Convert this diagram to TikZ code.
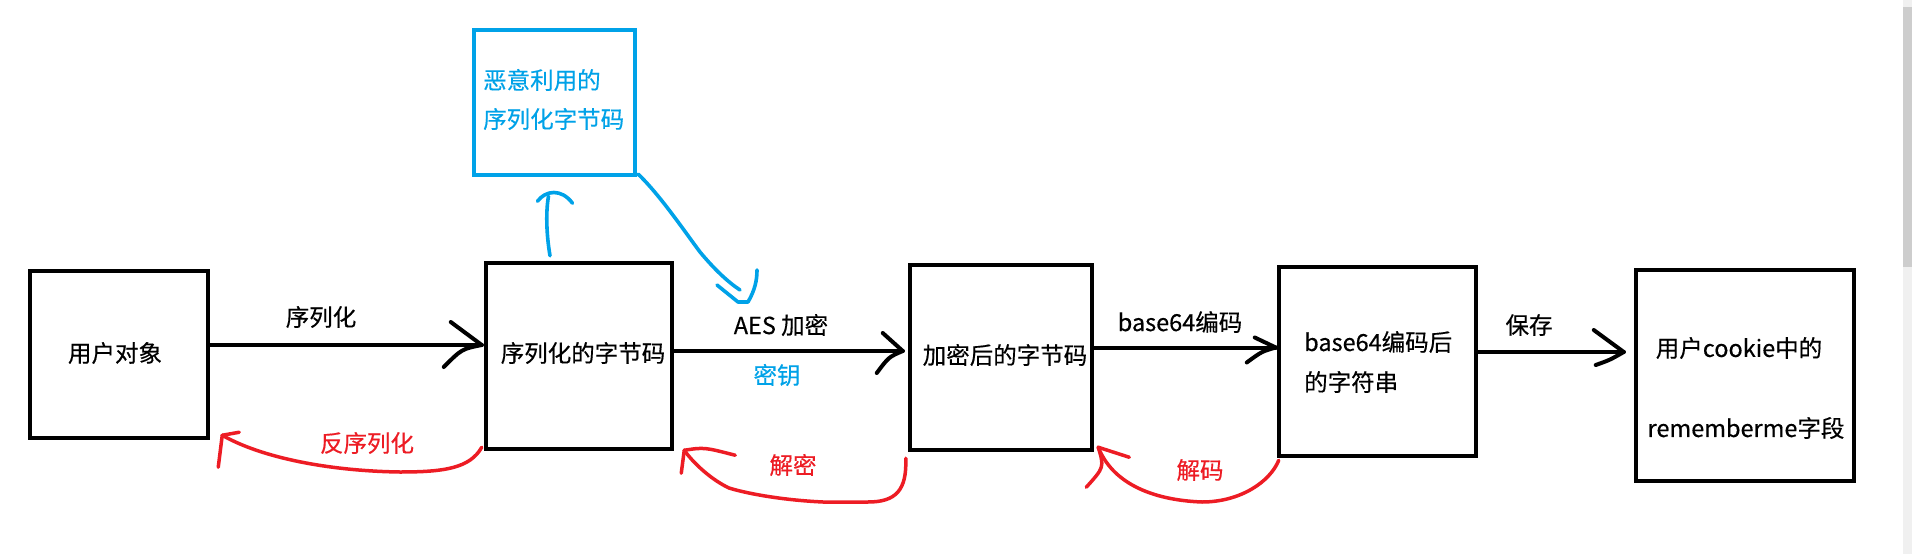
\documentclass[tikz,border=0pt]{standalone}
\usepackage{fontspec}
\setmainfont{Noto Sans CJK SC}[FakeBold=0.4]
\usetikzlibrary{calc}
\definecolor{pblue}{HTML}{00A2E8}
\definecolor{pred}{HTML}{ED1C24}
\definecolor{sbtrack}{HTML}{F0F0F0}
\definecolor{sbthumb}{HTML}{CDCDCD}
\begin{document}
\begin{tikzpicture}[x=1pt,y=-1pt,
  font=\fontsize{23.5}{28}\selectfont,
  box/.style={draw=black,line width=4.5pt,inner sep=0pt},
  bluebox/.style={draw=pblue,line width=4.5pt,inner sep=0pt},
  txt/.style={inner sep=0pt,anchor=center},
  blk/.style={draw=black,line width=4pt,line cap=round,line join=round},
  redln/.style={draw=pred,line width=3.5pt,line cap=round,line join=round},
  blueln/.style={draw=pblue,line width=3.6pt,line cap=round,line join=round}]

\fill[white] (0,0) rectangle (1912,554);
\path[use as bounding box] (0,0) rectangle (1912,554);
\fill[sbtrack] (1903,0) rectangle (1912,554);
\fill[sbthumb] (1903,7) rectangle (1912,267);

% boxes
\node[box,minimum width=178pt,minimum height=167pt] (obj) at (119,354.5) {};
\node[box,minimum width=186pt,minimum height=186pt] (ser) at (579,356) {};
\node[box,minimum width=182pt,minimum height=185pt] (enc) at (1001,357.5) {};
\node[box,minimum width=197pt,minimum height=189pt] (b64) at (1377.5,361.5) {};
\node[box,minimum width=218pt,minimum height=211pt] (ck) at (1745,375.5) {};
\node[bluebox,minimum width=161pt,minimum height=145pt] (mal) at (554.5,102.5) {};

% box texts
\node[txt] (tobj) at (115,353) {用户对象};
\node[txt] (tser) at (583,353) {序列化的字节码};
\node[txt] (tenc) at (1005,355) {加密后的字节码};
\node[txt,anchor=west] (tb64a) at (1304,342) {base64编码后};
\node[txt,anchor=west] (tb64b) at (1304,382) {的字符串};
\node[txt] (tck1) at (1739,348) {用户cookie中的};
\node[txt] (tck2) at (1746,428) {rememberme字段};
\node[txt,anchor=west,text=pblue] (tmal1) at (483,80) {恶意利用的};
\node[txt,anchor=west,text=pblue] (tmal2) at (483,119) {序列化字节码};

% labels
\node[txt] (lser) at (321,317) {序列化};
\node[txt] (laes) at (781,325) {AES 加密};
\node[txt,text=pblue] (lkey) at (777,375) {密钥};
\node[txt] (lb64) at (1180,322) {base64编码};
\node[txt] (lsave) at (1529,325) {保存};
\node[txt,text=pred] (ldeser) at (367,443) {反序列化};
\node[txt,text=pred] (ldec) at (793,465) {解密};
\node[txt,text=pred] (ldecode) at (1200,470) {解码};

% black arrows
\coordinate (a1s) at ($(obj.east)+(0,-9.5)$);
\coordinate (a1t) at ($(a1s -| ser.west)+(-2,0)$);
\draw[blk] (a1s) -- (a1t);
\draw[blk] (a1t) -- +(-31,-23);
\draw[blk] (a1t) .. controls +(-20,4) .. +(-38,22);

\coordinate (a2s) at ($(ser.east)+(0,-5)$);
\coordinate (a2t) at ($(a2s -| enc.west)+(-5,0)$);
\draw[blk] (a2s) -- (a2t);
\draw[blk] (a2t) -- +(-20,-18);
\draw[blk] (a2t) .. controls +(-14,6) .. +(-26,22);

\coordinate (a3s) at ($(enc.east)+(0,-10)$);
\coordinate (a3t) at ($(a3s -| b64.west)+(-1,0)$);
\draw[blk] (a3s) -- (a3t);
\draw[blk] (a3t) -- +(-21,-10);
\draw[blk] (a3t) .. controls +(-14,4) .. +(-29,15);

\coordinate (a4s) at ($(b64.east)+(0,-9.5)$);
\coordinate (a4t) at ($(a4s -| ck.west)+(-10,0)$);
\draw[blk] (a4s) -- (a4t);
\draw[blk] (a4t) -- +(-30,-22);
\draw[blk] (a4t) .. controls +(-14,8) .. +(-28,13);

% red return arrows
\coordinate (r1s) at ($(ser.south west)+(-2,-4)$);
\coordinate (r1t) at ($(obj.south east)+(12,-5)$);
\draw[redln] (r1s) .. controls (470,468) and (445,472) .. (400,472)
  .. controls (330,471) and (262,458) .. (r1t);
\draw[redln] (r1t) -- +(-4,32);
\draw[redln] (r1t) -- +(17,-3);

\coordinate (r2s) at ($(enc.south west)+(-2,6)$);
\coordinate (r2t) at ($(ser.south east)+(10,-1)$);
\draw[redln] (r2s) .. controls (907,490) and (896,502) .. (868,502) -- (823,502)
  .. controls (780,500) and (745,493) .. (729,488)
  .. controls (712,480) and (694,464) .. (r2t);
\draw[redln] (r2t) .. controls +(20,-3) .. +(51,5);
\draw[redln] (r2t) -- +(-3,23);

\coordinate (r3s) at ($(b64.south west)+(2,2)$);
\coordinate (r3t) at ($(enc.south east)+(4,-5)$);
\draw[redln] (r3s) .. controls (1270,482) and (1240,502) .. (1202,502)
  .. controls (1150,500) and (1112,482) .. (r3t);
\draw[redln] (r3t) .. controls +(15,5) .. +(31,10);
\draw[redln] (r3t) .. controls +(6,20) .. +(-12,40);

% blue arrows
\coordinate (b1s) at ($(ser.north)+(-29,-5)$);
\coordinate (b1t) at ($(mal.south)+(-6,19)$);
\draw[blueln] (b1s) .. controls (546,232) and (546,210) .. (b1t);
\draw[blueln] ($(b1t)+(-11,5)$) .. controls ($(b1t)+(-3,-6)$) and ($(b1t)+(13,-8)$) .. ($(b1t)+(24,7)$);

\coordinate (b2s) at ($(mal.south east)+(1,-3)$);
\coordinate (b2t) at (740,290);
\draw[blueln] (b2s) .. controls (660,195) and (685,232) .. (700,252)
  .. controls (715,270) and (728,282) .. (b2t);
\draw[blueln] ($(b2t)+(-23,-5)$) -- ($(b2t)+(-2,12)$) -- ($(b2t)+(8,12)$)
  .. controls ($(b2t)+(15,0)$) and ($(b2t)+(17,-10)$) .. ($(b2t)+(17,-20)$);
\end{tikzpicture}
\end{document}
